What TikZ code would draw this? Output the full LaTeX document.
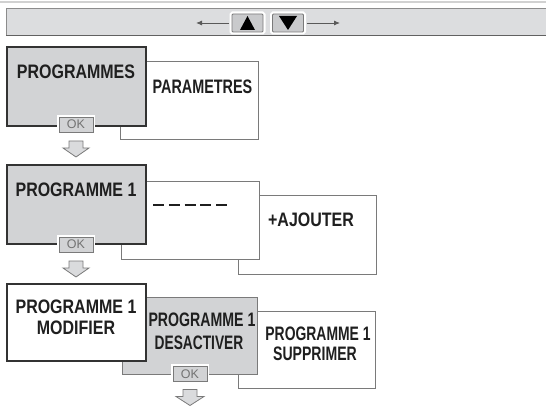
\documentclass[tikz,border=0pt]{standalone}
\usepackage{fontspec}
\setmainfont[FakeStretch=0.82]{Liberation Sans Bold}
\newfontfamily\okfont{Liberation Sans}
\usetikzlibrary{arrows.meta}
\definecolor{boxgray}{HTML}{D2D3D5}
\definecolor{bargray}{HTML}{DCDDDF}
\definecolor{btngray}{HTML}{C9CACC}
\definecolor{edgedark}{HTML}{333333}
\definecolor{edgemid}{HTML}{7A7A7A}
\definecolor{arrowfill}{HTML}{DADBDD}
\newcommand\sqz[2]{\scalebox{#1}[1]{#2}}
\begin{document}
\begin{tikzpicture}[x=1pt,y=-1pt,
  every node/.style={inner sep=0pt,outer sep=0pt},
  panel/.style={rectangle,anchor=north west,minimum width=#1},
  panel/.default=138pt,
  selbox/.style={panel,draw=edgedark,fill=boxgray,line width=1.3pt},
  selwhite/.style={panel,draw=edgedark,fill=white,line width=1.3pt},
  otherbox/.style={panel,draw=edgemid,fill=white,line width=1pt},
  othergray/.style={panel,draw=edgemid,fill=boxgray,line width=1pt},
  lbl/.style={font=\fontsize{19.5}{21}\selectfont,text=black!88},
  okbtn/.style={rectangle,draw=edgemid,fill=boxgray,line width=0.8pt,
    minimum width=34pt,minimum height=15pt,
    preaction={draw=white,line width=4.5pt},
    font=\okfont\fontsize{12.5}{12.5}\selectfont,text=black!55},
  barbtn/.style={rectangle,draw=edgemid,fill=btngray,line width=0.8pt,rounded corners=1pt,
    minimum width=31pt,minimum height=18pt,preaction={draw=white,line width=5pt}},
  hollow/.style={draw=edgemid,fill=arrowfill,line width=0.8pt,line join=miter},
  navarrow/.style={draw=black!65,line width=0.9pt,-{Latex[length=6pt,width=5pt]}}
]
\useasboundingbox (0,0) rectangle (546,406);
% top rule and bar
\draw[black!18,line width=1.5pt] (0,2) -- (546,2);
\fill[bargray] (6,9) rectangle (548,36);
\draw[black!45,line width=1pt] (548,9) -- (6,9) -- (6,36);
\draw[black!62,line width=1pt] (6,36) -- (548,36);
\node[barbtn] (up) at (247.5,23) {};
\node[barbtn] (down) at (288,23) {};
\fill[black] ([xshift=-7.5pt,yshift=-7pt]up.center) -- ([xshift=7.5pt,yshift=-7pt]up.center) -- ([yshift=7pt]up.center) -- cycle;
\fill[black] ([xshift=-9pt,yshift=7pt]down.center) -- ([xshift=9pt,yshift=7pt]down.center) -- ([yshift=-7pt]down.center) -- cycle;
\coordinate (leftend) at (196,23);
\coordinate (rightend) at (340,23);
\draw[navarrow] ([xshift=-3pt]up.west) -- (leftend);
\draw[navarrow] ([xshift=3pt]down.east) -- (rightend);

% row 1
\node[otherbox,minimum height=78pt] (B) at (120,62) {};
\node[selbox,minimum width=139pt,minimum height=79pt] (A) at (7,47) {};
\node[lbl] (tA) at (76,71.5) {PROGRAMMES};
\node[lbl] (tB) at (202.5,87) {\sqz{0.9}{PARAMETRES}};
\node[okbtn] (ok1) at (76,124.5) {OK};
\draw[hollow] ([xshift=-7pt,yshift=-9pt]ok1.south) -- ([xshift=7pt,yshift=-9pt]ok1.south)
  -- ([xshift=7pt,yshift=-16pt]ok1.south) -- ([xshift=13pt,yshift=-16pt]ok1.south)
  -- ([yshift=-25pt]ok1.south) -- ([xshift=-13pt,yshift=-16pt]ok1.south)
  -- ([xshift=-7pt,yshift=-16pt]ok1.south) -- cycle;

% row 2
\node[otherbox,minimum height=78pt] (E) at (238,196) {};
\node[otherbox,minimum height=77pt] (D) at (121,182) {};
\node[selbox,minimum width=139pt,minimum height=79pt] (C) at (7,165) {};
\node[lbl] (tC) at (76,190) {PROGRAMME 1};
\node[lbl] (tE) at (311,220) {+AJOUTER};
\coordinate (dashL) at (153,205);
\coordinate (dashR) at (227,205);
\draw[black!88,line width=2.6pt,dash pattern=on 11pt off 4.75pt] (dashL) -- (dashR);
\node[okbtn] (ok2) at (76,244.5) {OK};
\draw[hollow] ([xshift=-7pt,yshift=-9pt]ok2.south) -- ([xshift=7pt,yshift=-9pt]ok2.south)
  -- ([xshift=7pt,yshift=-16pt]ok2.south) -- ([xshift=13pt,yshift=-16pt]ok2.south)
  -- ([yshift=-25pt]ok2.south) -- ([xshift=-13pt,yshift=-16pt]ok2.south)
  -- ([xshift=-7pt,yshift=-16pt]ok2.south) -- cycle;

% row 3
\node[otherbox,minimum width=137pt,minimum height=77pt] (H) at (238,311) {};
\node[othergray,minimum width=135pt,minimum height=77pt] (G) at (122,297) {};
\node[selwhite,minimum width=139pt,minimum height=77pt] (F) at (7,284) {};
\node[lbl] (tF1) at (76,307) {PROGRAMME 1};
\node[lbl] (tF2) at (76,328) {MODIFIER};
\node[lbl] (tG1) at (202,320) {\sqz{0.885}{PROGRAMME 1}};
\node[lbl] (tG2) at (199,343) {\sqz{0.86}{DESACTIVER}};
\node[lbl] (tH1) at (318,334) {\sqz{0.87}{PROGRAMME 1}};
\node[lbl] (tH2) at (315,354) {\sqz{0.88}{SUPPRIMER}};
\node[okbtn] (ok3) at (190,374) {OK};
\draw[hollow] ([xshift=-7pt,yshift=-8pt]ok3.south) -- ([xshift=7pt,yshift=-8pt]ok3.south)
  -- ([xshift=7pt,yshift=-15pt]ok3.south) -- ([xshift=14pt,yshift=-15pt]ok3.south)
  -- ([yshift=-24pt]ok3.south) -- ([xshift=-14pt,yshift=-15pt]ok3.south)
  -- ([xshift=-7pt,yshift=-15pt]ok3.south) -- cycle;
\end{tikzpicture}
\end{document}
